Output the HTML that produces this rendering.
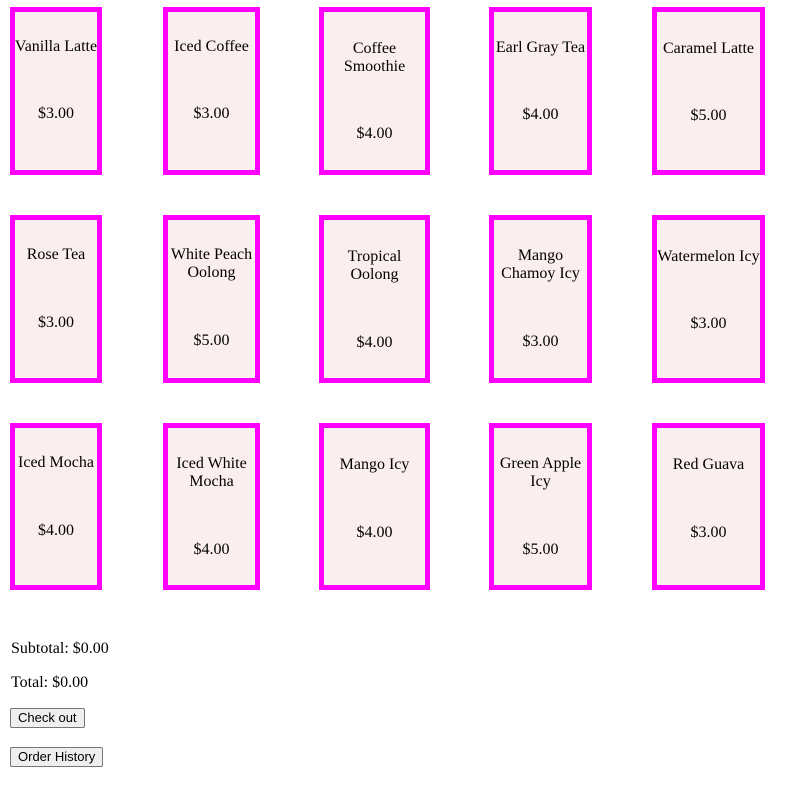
<!DOCTYPE html>
<html><head><style>
body{margin:0;width:792px;height:796px;background:#fff;font-family:"Liberation Serif",serif;font-size:16px;color:#000;position:relative;overflow:hidden}
.b{position:absolute;box-sizing:border-box;border:5px solid #ff00ff;background:#fbeeee;text-align:center}
.n{position:absolute;left:-10px;right:-10px;line-height:18px;margin-top:1px}
.p{position:absolute;left:0;right:0;line-height:18px;margin-top:1px}
.t{position:absolute;left:11px;line-height:18px;margin-top:1px}
.btn{position:absolute;left:10px;box-sizing:border-box;height:20px;border:1px solid #767676;border-radius:2px;background:#efefef;font-family:"Liberation Sans",sans-serif;font-size:13px;line-height:18px;padding:0 7px}
</style></head><body>
<div class="b" style="left:10px;top:7px;width:92px;height:168px"><div class="n" style="top:25px">Vanilla Latte</div><div class="p" style="top:92px">$3.00</div></div>
<div class="b" style="left:163px;top:7px;width:97px;height:168px"><div class="n" style="top:25px">Iced Coffee</div><div class="p" style="top:92px">$3.00</div></div>
<div class="b" style="left:319px;top:7px;width:111px;height:168px"><div class="n" style="top:27px">Coffee<br>Smoothie</div><div class="p" style="top:112px">$4.00</div></div>
<div class="b" style="left:489px;top:7px;width:103px;height:168px"><div class="n" style="top:26px">Earl Gray Tea</div><div class="p" style="top:93px">$4.00</div></div>
<div class="b" style="left:652px;top:7px;width:113px;height:168px"><div class="n" style="top:27px">Caramel Latte</div><div class="p" style="top:94px">$5.00</div></div>

<div class="b" style="left:10px;top:215px;width:92px;height:168px"><div class="n" style="top:25px">Rose Tea</div><div class="p" style="top:93px">$3.00</div></div>
<div class="b" style="left:163px;top:215px;width:97px;height:168px"><div class="n" style="top:25px">White Peach<br>Oolong</div><div class="p" style="top:111px">$5.00</div></div>
<div class="b" style="left:319px;top:215px;width:111px;height:168px"><div class="n" style="top:27px">Tropical<br>Oolong</div><div class="p" style="top:113px">$4.00</div></div>
<div class="b" style="left:489px;top:215px;width:103px;height:168px"><div class="n" style="top:26px">Mango<br>Chamoy Icy</div><div class="p" style="top:112px">$3.00</div></div>
<div class="b" style="left:652px;top:215px;width:113px;height:168px"><div class="n" style="top:27px">Watermelon Icy</div><div class="p" style="top:94px">$3.00</div></div>

<div class="b" style="left:10px;top:423px;width:92px;height:167px"><div class="n" style="top:25px">Iced Mocha</div><div class="p" style="top:93px">$4.00</div></div>
<div class="b" style="left:163px;top:423px;width:97px;height:167px"><div class="n" style="top:26px">Iced White<br>Mocha</div><div class="p" style="top:112px">$4.00</div></div>
<div class="b" style="left:319px;top:423px;width:111px;height:167px"><div class="n" style="top:27px">Mango Icy</div><div class="p" style="top:95px">$4.00</div></div>
<div class="b" style="left:489px;top:423px;width:103px;height:167px"><div class="n" style="top:26px">Green Apple<br>Icy</div><div class="p" style="top:112px">$5.00</div></div>
<div class="b" style="left:652px;top:423px;width:113px;height:167px"><div class="n" style="top:27px">Red Guava</div><div class="p" style="top:95px">$3.00</div></div>

<div class="t" style="top:639px">Subtotal: $0.00</div>
<div class="t" style="top:673px">Total: $0.00</div>
<div class="btn" style="top:708px">Check out</div>
<div class="btn" style="top:747px">Order History</div>
</body></html>
